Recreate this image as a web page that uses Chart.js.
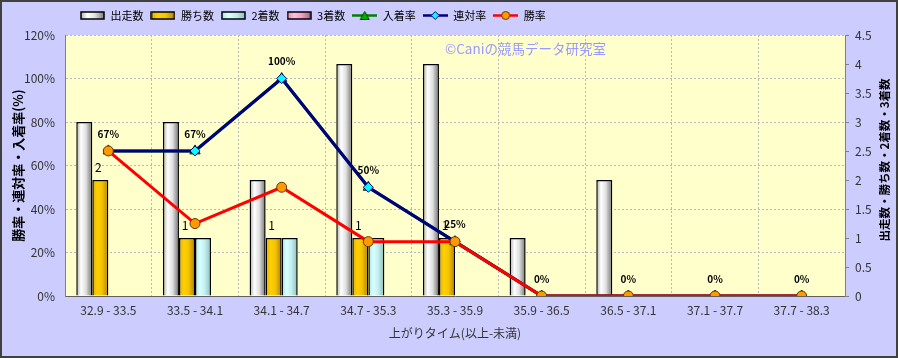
<!DOCTYPE html>
<html><head><meta charset="utf-8">
<script src="https://cdn.jsdelivr.net/npm/chart.js@4.4.1/dist/chart.umd.min.js"></script>
<style>html,body{margin:0;padding:0;background:#ccccff;}#wrap{width:898px;height:358px;position:relative;}</style>
</head><body><div id="wrap"><canvas id="c" width="898" height="358"></canvas></div>
<script>
const categories = ['32.9 - 33.5','33.5 - 34.1','34.1 - 34.7','34.7 - 35.3','35.3 - 35.9','35.9 - 36.5','36.5 - 37.1','37.1 - 37.7','37.7 - 38.3'];
const runs   = [3, 3, 2, 4, 4, 1, 2, 0, 0];
const wins   = [2, 1, 1, 1, 1, 0, 0, 0, 0];
const second = [0, 1, 1, 1, 0, 0, 0, 0, 0];
const third  = [0, 0, 0, 0, 0, 0, 0, 0, 0];
const placeRate = [66.7, 66.7, 100, 50, 25, 0, 0, 0, 0];
const quinellaRate = [66.7, 66.7, 100, 50, 25, 0, 0, 0, 0];
const winRate = [66.7, 33.3, 50, 25, 25, 0, 0, 0, 0];
const leftTicks = [0, 20, 40, 60, 80, 100, 120];
const rightTicks = [0, 0.5, 1, 1.5, 2, 2.5, 3, 3.5, 4, 4.5];

const FONT = "'Noto Sans CJK JP', 'Noto Sans', sans-serif";
const CAT_PCT = 0.74;
const gradStops = [
  [['#a8a8a8',0],['#ffffff',0.3],['#e0e0e0',0.6],['#707070',1]],
  [['#e0a800',0],['#ffd000',0.3],['#f5c400',0.6],['#b08000',1]],
  [['#a8e0e0',0],['#d8ffff',0.3],['#c4f0f0',0.6],['#88bcbc',1]],
  [['#d088a8',0],['#ffc0dc',0.3],['#f0a0c4',0.6],['#a06080',1]]
];
const solid = ['#dddddd','#ffcc00','#ccffff','#ff99cc'];
function barBg(ctx){
  const chart = ctx.chart; const ds = ctx.datasetIndex;
  const xs = chart.scales && chart.scales.x;
  if(!xs || !chart.chartArea || ctx.type !== 'data') return solid[ds];
  const cw = xs.width / categories.length;
  const gw = cw * CAT_PCT, bw = gw / 4;
  const c = xs.getPixelForValue(ctx.dataIndex);
  const l = c - gw/2 + ds*bw;
  const g = chart.ctx.createLinearGradient(l, 0, l + bw, 0);
  gradStops[ds].forEach(s => g.addColorStop(s[1], s[0]));
  return g;
}

function boxIcon(ds){
  const cv = document.createElement('canvas'); cv.width = 25; cv.height = 9;
  const x = cv.getContext('2d');
  const g = x.createLinearGradient(0,0,25,0);
  gradStops[ds].forEach(s => g.addColorStop(s[1], s[0]));
  x.fillStyle = g; x.fillRect(1,1,23,7);
  x.strokeStyle = '#000'; x.lineWidth = 1.5; x.strokeRect(1,1,23,7);
  return cv;
}
function lineIcon(color, fill, stroke, shape){
  const cv = document.createElement('canvas'); cv.width = 25; cv.height = 11;
  const x = cv.getContext('2d');
  x.strokeStyle = color; x.lineWidth = 2.5;
  x.beginPath(); x.moveTo(0,5.5); x.lineTo(25,5.5); x.stroke();
  x.fillStyle = fill; x.strokeStyle = stroke; x.lineWidth = 1;
  x.beginPath();
  if (shape === 'triangle'){ x.moveTo(12.5,1.5); x.lineTo(17,9.5); x.lineTo(8,9.5); x.closePath(); }
  else if (shape === 'diamond'){ x.moveTo(12.5,1.5); x.lineTo(16.5,5.5); x.lineTo(12.5,9.5); x.lineTo(8.5,5.5); x.closePath(); }
  else { x.arc(12.5,5.5,4,0,Math.PI*2); }
  x.fill(); x.stroke();
  return cv;
}
const legendIcons = [boxIcon(0), boxIcon(1), boxIcon(2), boxIcon(3),
  lineIcon('#008000','#00b000','#004000','triangle'),
  lineIcon('#000080','#00ffff','#000080','diamond'),
  lineIcon('#ff0000','#ff9900','#663300','circle')];

const bgPlugin = {
  id: 'bg',
  beforeDraw(chart){
    const {ctx, chartArea:a} = chart;
    ctx.save();
    ctx.fillStyle = '#ccccff';
    ctx.fillRect(0,0,chart.width,chart.height);
    ctx.fillStyle = '#ffffcc';
    ctx.fillRect(a.left, a.top, a.right-a.left, a.bottom-a.top);
    ctx.restore();
  },
  afterDraw(chart){
    const {ctx} = chart;
    ctx.save();
    ctx.strokeStyle = '#404040'; ctx.lineWidth = 2;
    ctx.strokeRect(1,1,chart.width-2,chart.height-2);
    ctx.fillStyle = '#000';
    ctx.font = 'bold 11.5px ' + FONT;
    ctx.translate(885, 160);
    ctx.rotate(-Math.PI/2);
    ctx.textAlign = 'center'; ctx.textBaseline = 'middle';
    ctx.fillText('出走数・勝ち数・2着数・3着数', 0, 0);
    ctx.restore();
  },
  afterDatasetsDraw(chart){
    const {ctx} = chart;
    ctx.save();
    ctx.fillStyle = '#9999ff';
    ctx.font = '13.5px ' + FONT;
    ctx.textAlign = 'left'; ctx.textBaseline = 'middle';
    ctx.fillText('©Caniの競馬データ研究室', 445, 49);
    ctx.fillStyle = '#000';
    ctx.textAlign = 'center';
    const mWin = chart.getDatasetMeta(1);
    ctx.font = '12px ' + FONT;
    mWin.data.forEach((el, i) => {
      if (wins[i] > 0) ctx.fillText(String(wins[i]), el.x - 2, el.y - 13);
    });
    const mQ = chart.getDatasetMeta(5);
    ctx.font = 'bold 10px ' + FONT;
    mQ.data.forEach((el, i) => {
      ctx.fillText(Math.round(quinellaRate[i]) + '%', el.x, el.y - 17);
    });
    ctx.restore();
  }
};

const legendFit = {
  id: 'legendFit',
  beforeInit(chart){
    const lg = chart.legend;
    const orig = lg.fit;
    lg.fit = function(){ orig.bind(lg)(); this.height = 35; };
    const od = lg.draw;
    lg.draw = function(){ const c = chart.ctx; c.save(); c.translate(73, 3); od.bind(lg)(); c.restore(); };
  }
};

const grid = { color: '#b8b8b8', lineWidth: 1 };
new Chart(document.getElementById('c'), {
  type: 'bar',
  data: {
    labels: categories,
    datasets: [
      { label: '出走数', data: runs, yAxisID: 'y1', backgroundColor: barBg, borderColor: '#000', borderWidth: 1.5, order: 10 },
      { label: '勝ち数', data: wins, yAxisID: 'y1', backgroundColor: barBg, borderColor: '#000', borderWidth: 1.5, order: 11 },
      { label: '2着数', data: second, yAxisID: 'y1', backgroundColor: barBg, borderColor: '#000', borderWidth: 1.5, order: 12 },
      { label: '3着数', data: third, yAxisID: 'y1', backgroundColor: barBg, borderColor: '#000', borderWidth: 1.5, order: 13 },
      { type: 'line', label: '入着率', data: placeRate, yAxisID: 'y', borderColor: '#008000', backgroundColor: '#00b000', borderWidth: 3,
        pointStyle: 'triangle', pointRadius: 6, pointBorderColor: '#004000', pointBorderWidth: 1, pointBackgroundColor: '#00b000', order: 3 },
      { type: 'line', label: '連対率', data: quinellaRate, yAxisID: 'y', borderColor: '#000080', backgroundColor: '#00ffff', borderWidth: 3,
        pointStyle: 'rectRot', pointRadius: 5, pointBorderColor: '#000080', pointBorderWidth: 1, pointBackgroundColor: '#00ffff', order: 2 },
      { type: 'line', label: '勝率', data: winRate, yAxisID: 'y', borderColor: '#ff0000', backgroundColor: '#ff9900', borderWidth: 3,
        pointStyle: 'circle', pointRadius: 5, pointBorderColor: '#663300', pointBorderWidth: 1, pointBackgroundColor: '#ff9900', order: 1 }
    ]
  },
  options: {
    responsive: false,
    animation: false,
    datasets: { bar: { categoryPercentage: CAT_PCT, barPercentage: 1 } },
    layout: { padding: 0 },
    plugins: {
      tooltip: { enabled: false },
      legend: {
        position: 'top', align: 'start',
        labels: {
          font: { family: FONT, size: 11 }, color: '#000',
          usePointStyle: true, pointStyleWidth: 25, boxHeight: 9, padding: 7,
          sort: (a, b) => a.datasetIndex - b.datasetIndex,
          generateLabels(chart){
            const items = Chart.defaults.plugins.legend.labels.generateLabels(chart);
            items.forEach(it => { it.pointStyle = legendIcons[it.datasetIndex]; });
            return items;
          }
        }
      }
    },
    scales: {
      x: {
        grid: { ...grid, offset: true, drawTicks: false },
        border: { color: '#606060', width: 1, dash: [2,2] },
        ticks: { font: { family: FONT, size: 12 }, color: '#333', padding: 7, maxRotation: 0 },
        title: { display: true, text: '上がりタイム(以上-未満)', font: { family: FONT, size: 12 }, color: '#333', padding: { top: 0, bottom: 17 } },
        afterFit(s){ s.height = 62; }
      },
      y: {
        position: 'left', min: 0, max: 120,
        afterBuildTicks(s){ s.ticks = leftTicks.map(v => ({ value: v })); },
        grid: { ...grid, drawTicks: false },
        border: { color: '#808080', width: 1, dash: [2,2] },
        ticks: { font: { family: FONT, size: 12 }, color: '#333', padding: 10, callback: v => v + '%' },
        title: { display: true, text: '勝率・連対率・入着率(%)', font: { family: FONT, size: 13, weight: 'bold' }, color: '#000', padding: { top: 10, bottom: 0 } },
        afterFit(s){ s.width = 65; }
      },
      y1: {
        position: 'right', min: 0, max: 4.5,
        afterBuildTicks(s){ s.ticks = rightTicks.map(v => ({ value: v })); },
        grid: { drawOnChartArea: false, color: '#808080', tickLength: 4 },
        border: { color: '#808080', width: 1 },
        ticks: { font: { family: FONT, size: 12 }, color: '#333', padding: 6, callback: v => String(v) },
        afterFit(s){ s.width = 53; }
      }
    }
  },
  plugins: [bgPlugin, legendFit]
});
</script></body></html>
